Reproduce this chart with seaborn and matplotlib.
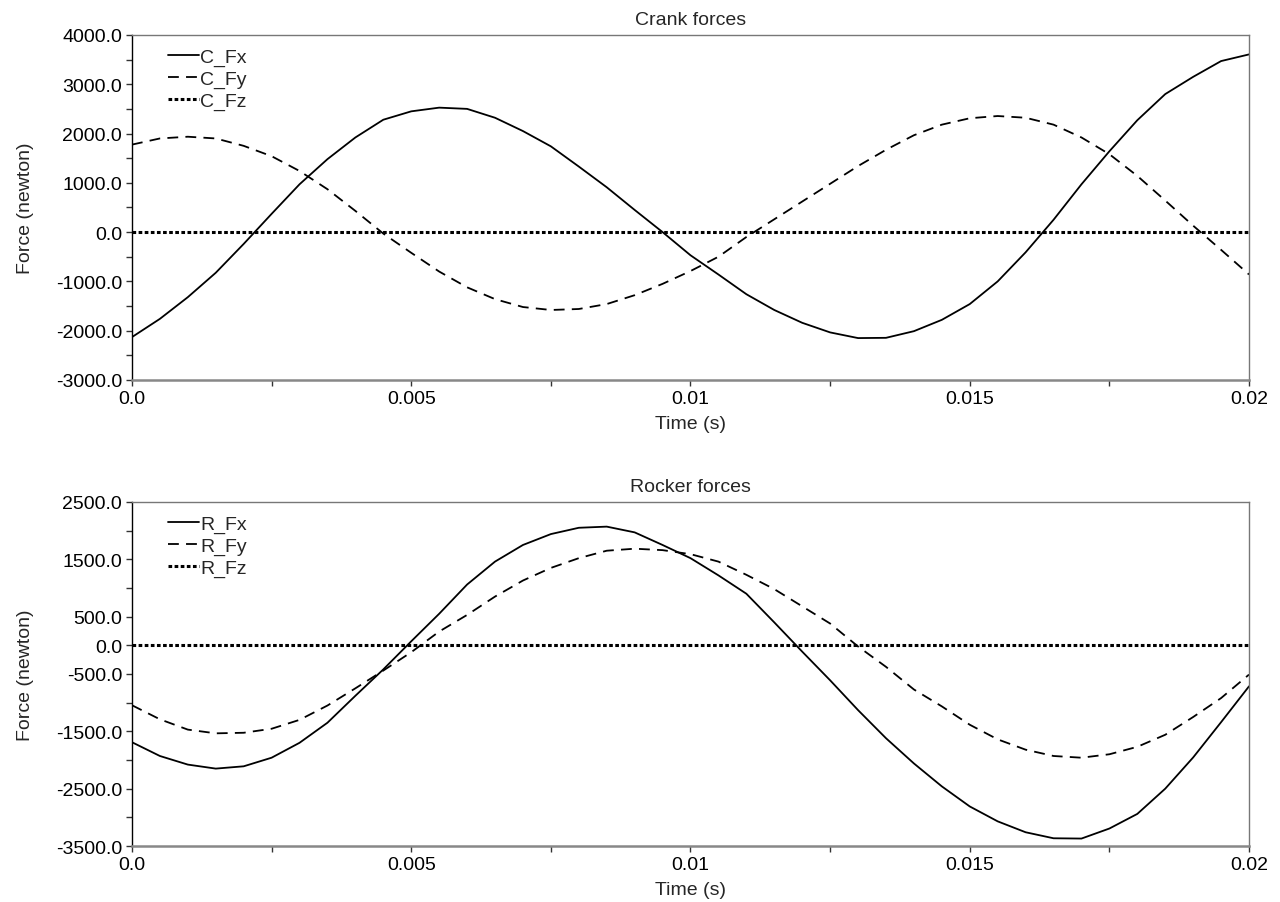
import numpy as np
import pandas as pd
import matplotlib
matplotlib.use('Agg')
import matplotlib.pyplot as plt
import seaborn as sns

sns.set_style('ticks')
plt.rcParams['font.family'] = ['Liberation Sans', 'DejaVu Sans']
plt.rcParams['font.size'] = 14

# time samples (s), every 0.0005 s
time_s = [0.0, 0.0005, 0.001, 0.0015, 0.002, 0.0025, 0.003, 0.0035, 0.004, 0.0045,
          0.005, 0.0055, 0.006, 0.0065, 0.007, 0.0075, 0.008, 0.0085, 0.009, 0.0095,
          0.01, 0.0105, 0.011, 0.0115, 0.012, 0.0125, 0.013, 0.0135, 0.014, 0.0145,
          0.015, 0.0155, 0.016, 0.0165, 0.017, 0.0175, 0.018, 0.0185, 0.019, 0.0195, 0.02]

# crank forces (N)
c_fx = [-2130, -1760, -1320, -825, -240, 370, 970, 1480, 1920, 2280,
        2450, 2525, 2500, 2320, 2050, 1740, 1330, 910, 450, 0,
        -470, -860, -1260, -1580, -1840, -2035, -2150, -2145, -2010, -1780,
        -1460, -1000, -410, 250, 970, 1640, 2270, 2800, 3150, 3470, 3605]
c_fy = [1775, 1900, 1935, 1900, 1750, 1540, 1240, 870, 430, -30,
        -420, -800, -1120, -1360, -1520, -1580, -1560, -1460, -1280, -1050,
        -790, -500, -100, 260, 620, 980, 1340, 1670, 1965, 2180,
        2310, 2355, 2320, 2180, 1920, 1580, 1140, 640, 130, -360, -860]
c_fz = [0] * 41

# rocker forces (N)
r_fx = [-1690, -1930, -2080, -2150, -2110, -1960, -1700, -1350, -880, -420,
        70, 550, 1060, 1460, 1750, 1940, 2050, 2070, 1970, 1750,
        1520, 1220, 900, 400, -110, -610, -1130, -1620, -2060, -2460,
        -2810, -3070, -3260, -3365, -3370, -3195, -2940, -2500, -1955, -1340, -715]
r_fy = [-1045, -1290, -1470, -1535, -1525, -1455, -1300, -1050, -750, -440,
        -120, 240, 530, 850, 1130, 1350, 1520, 1650, 1685, 1660,
        1590, 1460, 1230, 980, 680, 380, -20, -375, -770, -1065,
        -1385, -1640, -1820, -1930, -1960, -1900, -1770, -1560, -1250, -920, -510]
r_fz = [0] * 41

x_ticks = [0.0, 0.005, 0.01, 0.015, 0.02]
x_ticklabels = ['0.0', '0.005', '0.01', '0.015', '0.02']
x_minor = [0.0025, 0.0075, 0.0125, 0.0175]

crank_major = [-3000, -2000, -1000, 0, 1000, 2000, 3000, 4000]
crank_minor = [-2500, -1500, -500, 500, 1500, 2500, 3500]
rocker_major = [-3500, -2500, -1500, -500, 0, 500, 1500, 2500]
rocker_minor = [-3000, -2000, -1000, 1000, 2000]

fig = plt.figure(figsize=(12.8, 9.03), dpi=100)
ax1 = fig.add_axes([0.1031, 0.5781, 0.8727, 0.3821])
ax2 = fig.add_axes([0.1031, 0.0620, 0.8727, 0.3810])


def draw_panel(ax, df, names, title, ylim, major, minor):
    sns.lineplot(data=df, x='t', y=names[0], ax=ax, color='black', lw=1.3,
                 linestyle='-', label=names[0])
    sns.lineplot(data=df, x='t', y=names[1], ax=ax, color='black', lw=1.3,
                 label=names[1])
    ax.lines[-1].set_linestyle((0, (6, 4)))
    sns.lineplot(data=df, x='t', y=names[2], ax=ax, color='black', lw=2.2,
                 label=names[2])
    ax.lines[-1].set_linestyle((0, (1.2, 0.8)))

    ax.set_xlim(0, 0.02)
    ax.set_ylim(*ylim)
    ax.set_xticks(x_ticks)
    ax.set_xticklabels(x_ticklabels)
    ax.set_xticks(x_minor, minor=True)
    ax.set_yticks(major)
    ax.set_yticklabels([f'{v:.1f}' for v in major])
    ax.set_yticks(minor, minor=True)
    ax.tick_params(axis='both', which='major', length=4.5, width=1, labelsize=14,
                   pad=2.5, colors='#333333', labelcolor='black')
    ax.tick_params(axis='both', which='minor', length=4, width=1, colors='#333333')

    for side in ['top', 'right']:
        ax.spines[side].set_color('#777777')
        ax.spines[side].set_linewidth(1.0)
    ax.spines['left'].set_color('black')
    ax.spines['left'].set_linewidth(1.0)
    ax.spines['bottom'].set_color('#888888')
    ax.spines['bottom'].set_linewidth(1.8)

    ax.set_title(title, fontsize=14, pad=8)
    ax.set_xlabel('Time (s)', fontsize=14, labelpad=6)
    ax.set_ylabel('Force (newton)', fontsize=14, labelpad=16)

    leg = ax.legend(loc='upper left', bbox_to_anchor=(0.02, 1.0), frameon=False,
                    fontsize=14, handlelength=1.6, handletextpad=0.05,
                    labelspacing=0.2, borderaxespad=0.3)
    for h in leg.get_lines():
        h.set_color('black')


crank = pd.DataFrame({'t': time_s, 'C_Fx': c_fx, 'C_Fy': c_fy, 'C_Fz': c_fz})
rocker = pd.DataFrame({'t': time_s, 'R_Fx': r_fx, 'R_Fy': r_fy, 'R_Fz': r_fz})

draw_panel(ax1, crank, ['C_Fx', 'C_Fy', 'C_Fz'], 'Crank forces',
           (-3000, 4000), crank_major, crank_minor)
draw_panel(ax2, rocker, ['R_Fx', 'R_Fy', 'R_Fz'], 'Rocker forces',
           (-3500, 2500), rocker_major, rocker_minor)

fig.savefig('out.png', dpi=100, facecolor='white')
